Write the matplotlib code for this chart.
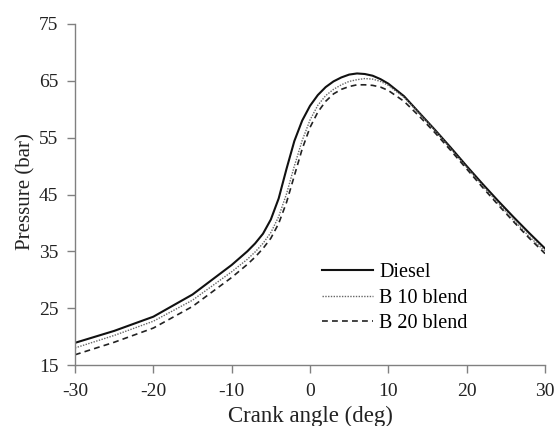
import matplotlib
matplotlib.use("Agg")
import matplotlib.pyplot as plt

# crank angle (deg) and cylinder pressure (bar)
crank_angle = [-30, -25, -20, -15, -10, -8, -7, -6, -5, -4, -3, -2, -1, 0, 1, 2, 3, 4, 5,
               6, 7, 8, 9, 10, 12, 14, 16, 18, 20, 22, 24, 26, 28, 30]
diesel = [18.9, 21.0, 23.5, 27.4, 32.6, 35.0, 36.4, 38.1, 40.6, 44.3, 49.5, 54.4, 58.0,
          60.6, 62.5, 63.9, 64.9, 65.6, 66.1, 66.3, 66.2, 65.9, 65.3, 64.5, 62.3, 59.3,
          56.3, 53.2, 50.0, 46.9, 43.9, 41.0, 38.2, 35.5]
b10_blend = [18.0, 20.2, 22.7, 26.4, 31.4, 33.6, 34.9, 36.4, 38.3, 41.1, 45.1, 50.0, 54.5,
             58.1, 60.7, 62.4, 63.5, 64.3, 64.9, 65.2, 65.4, 65.3, 64.9, 64.2, 62.1, 59.2,
             56.2, 53.0, 49.8, 46.6, 43.5, 40.5, 37.6, 35.0]
b20_blend = [16.8, 19.0, 21.5, 25.3, 30.4, 32.7, 34.0, 35.5, 37.3, 39.9, 43.6, 48.3, 53.0,
             56.8, 59.5, 61.4, 62.7, 63.5, 64.0, 64.3, 64.3, 64.2, 63.9, 63.3, 61.4, 58.7,
             55.8, 52.7, 49.5, 46.3, 43.2, 40.2, 37.3, 34.6]

x_ticks = [-30, -20, -10, 0, 10, 20, 30]
y_ticks = [15, 25, 35, 45, 55, 65, 75]

plt.rcParams["font.family"] = ["Liberation Serif", "DejaVu Serif"]
plt.rcParams["axes.unicode_minus"] = False

fig = plt.figure(figsize=(5.58, 4.26), dpi=100)
ax = fig.add_axes([75 / 558, 1 - 365 / 426, 470 / 558, 341 / 426])

ax.plot(crank_angle, diesel, color="#111111", lw=1.5, label="Diesel")
ax.plot(crank_angle, b10_blend, color="#666666", lw=1.0, ls=(0, (1, 1)), label="B 10 blend")
ax.plot(crank_angle, b20_blend, color="#222222", lw=1.2, ls=(0, (3.5, 2.5)), label="B 20 blend")

ax.set_xlim(-30, 30)
ax.set_ylim(15, 75)
ax.set_xticks(x_ticks)
ax.set_yticks(y_ticks)

for side in ["top", "right"]:
    ax.spines[side].set_visible(False)
for side in ["left", "bottom"]:
    ax.spines[side].set_color("#808080")
    ax.spines[side].set_linewidth(1.0)

ax.tick_params(axis="both", direction="out", length=6, width=1.0, color="#808080",
               labelsize=14, labelcolor="#222222")
ax.tick_params(axis="y", pad=6)
ax.tick_params(axis="x", pad=7)

ax.set_xlabel("Crank angle (deg)", fontsize=16.5, color="#222222")
ax.set_ylabel("Pressure (bar)", fontsize=15, color="#222222")
ax.xaxis.set_label_coords(0.5, -0.12)
ax.yaxis.set_label_coords(-0.085, 0.51)

ax.legend(loc="upper left", bbox_to_anchor=(0.525, 0.298), frameon=False, fontsize=14.5,
          handlelength=2.55, handletextpad=0.3, labelspacing=0.3, borderpad=0,
          borderaxespad=0)

fig.savefig("out.png", dpi=100)
